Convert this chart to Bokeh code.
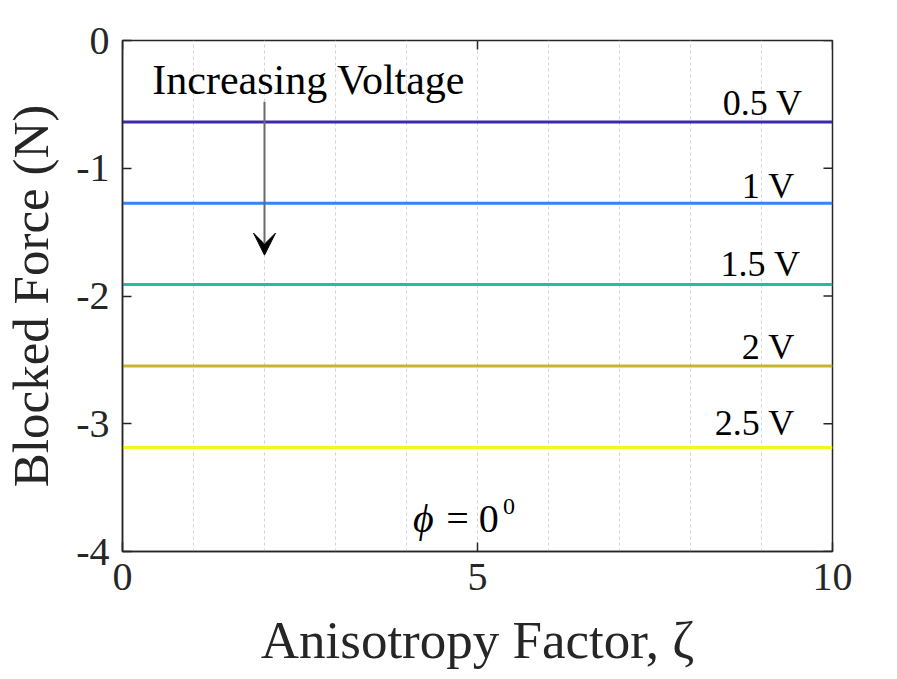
import math
from bokeh.plotting import figure
from bokeh.models import Label, Arrow, VeeHead, FixedTicker, Range1d
from bokeh.embed import file_html
from bokeh.resources import INLINE

# ---- data ----
zeta = [0, 1, 2, 3, 4, 5, 6, 7, 8, 9, 10]
voltages = ["0.5 V", "1 V", "1.5 V", "2 V", "2.5 V"]
blocked_force = [-0.637, -1.274, -1.910, -2.548, -3.185]
line_colors = ["#3d2aa9", "#3a80f6", "#20bcb2", "#c9b42e", "#f6f51e"]
label_x = [9.58, 9.47, 9.55, 9.47, 9.47]
label_y = [-0.587, -1.229, -1.840, -2.490, -3.090]
x_ticks = [0, 5, 10]
y_ticks = [-4, -3, -2, -1, 0]
y_tick_text = {t: str(t) for t in y_ticks}   # plain hyphen minus as in the reference

FONT = "Liberation Serif"
DARK = "#262626"
BASE = 0.32  # alphabetic-baseline correction (fraction of font size)

W, H = 880, 678
p = figure(width=W, height=H, output_backend="svg", toolbar_location=None,
           x_range=Range1d(x_ticks[0], x_ticks[-1]), y_range=Range1d(y_ticks[0], y_ticks[-1]),
           min_border_left=121, min_border_right=W - 832, min_border_top=40, min_border_bottom=H - 551)
p.background_fill_color = "white"
p.border_fill_color = "white"
p.outline_line_color = DARK
p.outline_line_width = 1.5

p.xgrid.ticker = FixedTicker(ticks=zeta[1:-1])
p.xgrid.grid_line_color = "#d2d2d2"
p.xgrid.grid_line_dash = "3 3"
p.xgrid.grid_line_width = 1
p.ygrid.grid_line_color = None

for f, c in zip(blocked_force, line_colors):
    p.line(zeta, [f] * len(zeta), line_color=c, line_width=3)

def txt(x, y, s, size, align="left", style="normal", extra=0):
    p.add_layout(Label(x=x, y=y, text=s, text_align=align, text_baseline="alphabetic",
                       y_offset=round(BASE * size) + extra, text_font=FONT,
                       text_font_size=f"{size}px", text_font_style=style, text_color="black"))

for name, lx, ly in zip(voltages, label_x, label_y):
    txt(lx, ly, name, 36, align="right")

txt(0.42, -0.41, "Increasing Voltage", 42)
p.add_layout(Arrow(end=VeeHead(size=22, fill_color="black", line_color="black", line_width=1),
                   x_start=2, y_start=-0.48, x_end=2, y_end=-1.68,
                   line_color="#6a6a6a", line_width=2))

# phi = 0^0
txt(4.09, -3.84, "\u03d5", 40, style="italic")
txt(4.56, -3.84, "= 0", 40)
txt(5.36, -3.84, "0", 24, extra=17)

# axes
for ax in (p.xaxis[0], p.yaxis[0]):
    ax.major_tick_in = 9
    ax.major_tick_out = 0
    ax.minor_tick_in = 0
    ax.minor_tick_out = 0
    ax.axis_line_color = DARK
    ax.axis_line_width = 1.5
    ax.major_tick_line_color = DARK
    ax.major_tick_line_width = 1.5
    ax.major_label_text_font = FONT
    ax.major_label_text_font_size = "40px"
    ax.major_label_text_color = DARK
    ax.axis_label_text_font = FONT
    ax.axis_label_text_font_style = "normal"
    ax.axis_label_text_color = DARK

p.xaxis.axis_label_text_font_size = "53px"
p.yaxis.axis_label_text_font_size = "51px"
p.xaxis.ticker = FixedTicker(ticks=x_ticks)
p.yaxis.ticker = FixedTicker(ticks=y_ticks)
p.yaxis.major_label_overrides = y_tick_text
p.xaxis.axis_label = "Anisotropy Factor, \u03b6"
p.yaxis.axis_label = "Blocked Force (N)"
p.xaxis.major_label_standoff = 12
p.xaxis.axis_label_standoff = 18
p.yaxis.major_label_standoff = 13
p.yaxis.axis_label_standoff = 14

# mirrored inward ticks on the right and top edges
p.ray(x=[x_ticks[-1]] * len(y_ticks), y=y_ticks, length=9, length_units="screen",
      angle=math.pi, line_color=DARK, line_width=1.5)
p.ray(x=x_ticks, y=[y_ticks[-1]] * len(x_ticks), length=9, length_units="screen",
      angle=-math.pi / 2, line_color=DARK, line_width=1.5)

open("out.html", "w").write(file_html(p, INLINE))
